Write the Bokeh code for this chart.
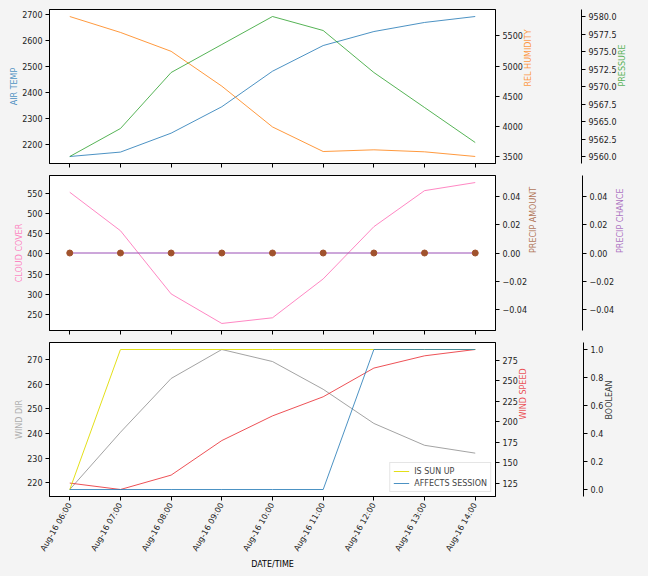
import math
import pandas as pd
from bokeh.plotting import figure
from bokeh.layouts import column
from bokeh.models import (Range1d, LinearAxis, FixedTicker, DatetimeTickFormatter,
                          PrintfTickFormatter, CustomJSTickFormatter, Legend, LegendItem)
from bokeh.embed import file_html
from bokeh.resources import INLINE

# ---------------- data ----------------
times = ["2019-08-16 06:00", "2019-08-16 07:00", "2019-08-16 08:00",
         "2019-08-16 09:00", "2019-08-16 10:00", "2019-08-16 11:00",
         "2019-08-16 12:00", "2019-08-16 13:00", "2019-08-16 14:00"]
air_temp = [2152, 2169, 2242, 2344, 2481, 2580, 2634, 2669, 2692]
rel_humidity = [5818, 5555, 5243, 4667, 3993, 3587, 3615, 3582, 3505]
pressure = [9560.0, 9564.0, 9572.0, 9576.0, 9580.0, 9578.0, 9572.0, 9567.0, 9562.0]
cloud_cover = [552, 457, 301, 228, 242, 338, 467, 556, 576]
precip_amount = [0, 0, 0, 0, 0, 0, 0, 0, 0]
precip_chance = [0, 0, 0, 0, 0, 0, 0, 0, 0]
wind_dir = [217.2, 240.5, 262.4, 274.2, 269.3, 258.0, 244.1, 235.2, 232.0]
wind_speed = [125.5, 117.7, 135.2, 177.2, 207.2, 230.4, 265.3, 280.2, 287.9]
is_sun_up = [0, 1, 1, 1, 1, 1, 1, 1, 1]
affects_session = [0, 0, 0, 0, 0, 0, 1, 1, 1]

air_temp_ticks = [2200, 2300, 2400, 2500, 2600, 2700]
rel_humidity_ticks = [3500, 4000, 4500, 5000, 5500]
pressure_ticks = [9560.0, 9562.5, 9565.0, 9567.5, 9570.0, 9572.5, 9575.0, 9577.5, 9580.0]
cloud_ticks = [250, 300, 350, 400, 450, 500, 550]
precip_ticks = [-0.04, -0.02, 0.0, 0.02, 0.04]
wind_dir_ticks = [220, 230, 240, 250, 260, 270]
wind_speed_ticks = [125, 150, 175, 200, 225, 250, 275]
bool_ticks = [0.0, 0.2, 0.4, 0.6, 0.8, 1.0]

# ---------------- style ----------------
FONT = "DejaVu Sans"
BG = "#f4f4f4"
C_BLUE = "#1f77b4"
C_ORANGE = "#ff7f0e"
C_GREEN = "#2ca02c"
C_PINK = "#ff69b4"
C_BROWN = "#a0522d"
C_PURPLE = "#9a4fb5"
C_GREY = "#8c8c8c"
C_RED = "#e8262c"
C_YELLOW = "#e0dc00"
ALPHA = 0.8

x = pd.to_datetime(times)
epoch = pd.Timestamp("1970-01-01")
tick_ms = [float((t - epoch) / pd.Timedelta(milliseconds=1)) for t in x]
pad = pd.Timedelta(minutes=24)
xr = Range1d(start=x[0] - pad, end=x[-1] + pad)


def style_axis(ax):
    ax.major_label_text_font = FONT
    ax.major_label_text_font_size = "8px"
    ax.major_label_text_color = "#222222"
    ax.axis_line_color = "black"
    ax.major_tick_line_color = "black"
    ax.major_tick_out = 4
    ax.major_tick_in = 0
    ax.minor_tick_line_color = None
    ax.minor_tick_out = 0
    ax.major_label_standoff = 3
    ax.axis_label_text_font = FONT
    ax.axis_label_text_font_size = "8px"
    ax.axis_label_text_font_style = "normal"
    ax.axis_label_standoff = 0


def make_fig(yr, fh, top, bottom):
    p = figure(x_axis_type="datetime", x_range=xr, y_range=yr,
               frame_width=446, frame_height=fh,
               min_border_left=49, min_border_right=153,
               min_border_top=top, min_border_bottom=bottom,
               output_backend="svg", toolbar_location=None,
               background_fill_color="white", border_fill_color=BG)
    p.grid.visible = False
    p.outline_line_color = "black"
    p.outline_line_alpha = 1
    p.outline_line_width = 1
    for ax in p.xaxis + p.yaxis:
        style_axis(ax)
    p.xaxis.ticker = FixedTicker(ticks=tick_ms)
    fmt = "%b-%d %H:%M"
    p.xaxis.formatter = DatetimeTickFormatter(microseconds=fmt, milliseconds=fmt, seconds=fmt,
                                              minsec=fmt, minutes=fmt, hourmin=fmt, hours=fmt,
                                              days=fmt, months=fmt, years=fmt)
    return p


def spacer(p, rname, mid, w):
    ax = LinearAxis(y_range_name=rname, ticker=FixedTicker(ticks=[mid]),
                    axis_line_color=None, major_tick_line_color=None,
                    minor_tick_line_color=None, major_tick_out=w, major_tick_in=0,
                    minor_tick_out=0, major_label_text_color=None,
                    major_label_standoff=0)
    p.add_layout(ax, "right")


def right_axis(p, rname, ticks, label, color, formatter=None):
    ax = LinearAxis(y_range_name=rname, ticker=FixedTicker(ticks=ticks))
    style_axis(ax)
    ax.axis_label = label
    ax.axis_label_text_color = color
    ax.axis_label_text_alpha = ALPHA
    ax.axis_label_standoff = 3
    if "axis_label_orientation" in ax.properties():
        ax.axis_label_orientation = math.pi / 2
    if formatter is not None:
        ax.formatter = formatter
    p.add_layout(ax, "right")
    return ax


minus_fmt = CustomJSTickFormatter(code="return tick.toFixed(2).replace('-', '\\u2212');")

# ---------------- panel 1 ----------------
p1 = make_fig(Range1d(2125, 2719), 154, 9, 6)
p1.xaxis.major_label_text_color = None
p1.xaxis.major_label_standoff = 0
p1.yaxis.ticker = FixedTicker(ticks=air_temp_ticks)
p1.yaxis.axis_label = "AIR TEMP"
p1.yaxis.axis_label_text_color = C_BLUE
p1.yaxis.axis_label_text_alpha = ALPHA
p1.extra_y_ranges = {"hum": Range1d(3389, 5934), "pres": Range1d(9559.0, 9581.0)}
right_axis(p1, "hum", rel_humidity_ticks, "REL HUMIDITY", C_ORANGE)
spacer(p1, "pres", 9570.0, 41)
right_axis(p1, "pres", pressure_ticks, "PRESSURE", C_GREEN, PrintfTickFormatter(format="%.1f"))
p1.line(x, air_temp, color=C_BLUE, line_width=1, line_alpha=ALPHA)
p1.line(x, rel_humidity, color=C_ORANGE, line_width=1, line_alpha=ALPHA, y_range_name="hum")
p1.line(x, pressure, color=C_GREEN, line_width=1, line_alpha=ALPHA, y_range_name="pres")

# ---------------- panel 2 ----------------
p2 = make_fig(Range1d(210.6, 593.4), 155, 6, 6)
p2.xaxis.major_label_text_color = None
p2.xaxis.major_label_standoff = 0
p2.yaxis.ticker = FixedTicker(ticks=cloud_ticks)
p2.yaxis.axis_label = "CLOUD COVER"
p2.yaxis.axis_label_text_color = C_PINK
p2.yaxis.axis_label_text_alpha = ALPHA
p2.extra_y_ranges = {"pamt": Range1d(-0.055, 0.055), "pch": Range1d(-0.055, 0.055)}
right_axis(p2, "pamt", precip_ticks, "PRECIP AMOUNT", C_BROWN, minus_fmt)
spacer(p2, "pch", 0.0, 37)
right_axis(p2, "pch", precip_ticks, "PRECIP CHANCE", C_PURPLE, minus_fmt)
p2.line(x, cloud_cover, color=C_PINK, line_width=1, line_alpha=ALPHA)
p2.line(x, precip_chance, color=C_PURPLE, line_width=1, y_range_name="pch")
p2.scatter(x, precip_amount, size=6, color=C_BROWN, y_range_name="pamt")

# ---------------- panel 3 ----------------
p3 = make_fig(Range1d(214.35, 277.05), 154, 6, 10)
p3.xaxis.major_label_orientation = math.pi / 3
p3.xaxis.axis_label = "DATE/TIME"
p3.xaxis.axis_label_text_color = "black"
p3.xaxis.axis_label_standoff = 2
p3.yaxis.ticker = FixedTicker(ticks=wind_dir_ticks)
p3.yaxis.axis_label = "WIND DIR"
p3.yaxis.axis_label_text_color = C_GREY
p3.yaxis.axis_label_text_alpha = 0.7
p3.extra_y_ranges = {"ws": Range1d(109.2, 296.4), "bool": Range1d(-0.05, 1.05)}
right_axis(p3, "ws", wind_speed_ticks, "WIND SPEED", C_RED)
spacer(p3, "bool", 0.5, 48)
right_axis(p3, "bool", bool_ticks, "BOOLEAN", "black", PrintfTickFormatter(format="%.1f"))
p3.line(x, wind_dir, color=C_GREY, line_width=1, line_alpha=ALPHA)
p3.line(x, wind_speed, color=C_RED, line_width=1, line_alpha=ALPHA, y_range_name="ws")
r_sun = p3.line(x, is_sun_up, color=C_YELLOW, line_width=1, line_alpha=0.9, y_range_name="bool")
r_aff = p3.line(x, affects_session, color=C_BLUE, line_width=1, line_alpha=ALPHA, y_range_name="bool")

legend = Legend(items=[LegendItem(label="IS SUN UP", renderers=[r_sun]),
                       LegendItem(label="AFFECTS SESSION", renderers=[r_aff])],
                location="bottom_right", label_text_font=FONT, label_text_font_size="8px",
                glyph_width=16, glyph_height=10, label_height=10, label_standoff=5,
                spacing=2, padding=3, margin=4, border_line_color="#cccccc",
                background_fill_alpha=0.8)
p3.add_layout(legend)

layout = column(p1, p2, p3, spacing=0)
html = file_html(layout, INLINE)
html = html.replace("<head>", "<head>\n<style>body{background:#f4f4f4;}</style>", 1)
open("out.html", "w").write(html)
